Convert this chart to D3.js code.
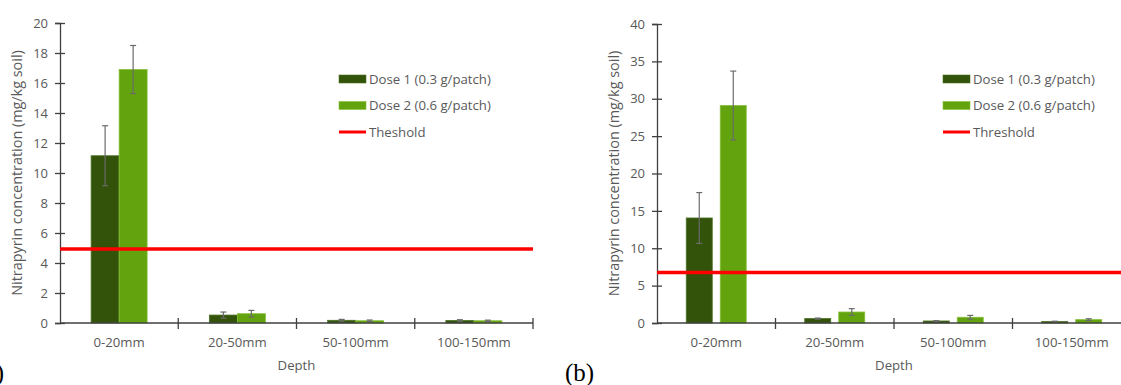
<!DOCTYPE html>
<html>
<head>
<meta charset="utf-8">
<script src="https://cdn.jsdelivr.net/npm/d3@7"></script>
<style>
  html, body { margin: 0; padding: 0; background: #fff; }
  svg { display: block; }
</style>
</head>
<body>
<div id="wrap"></div>
<script>
const categories = ["0-20mm", "20-50mm", "50-100mm", "100-150mm"];

// panel (a)
const doseA1 = [11.15, 0.53, 0.18, 0.17];
const errA1 = [2.0, 0.2, 0.06, 0.05];
const doseA2 = [16.9, 0.62, 0.15, 0.15];
const errA2 = [1.6, 0.22, 0.05, 0.04];
const thresholdA = 4.93;
const ticksA = [0, 2, 4, 6, 8, 10, 12, 14, 16, 18, 20];

// panel (b)
const doseB1 = [14.05, 0.59, 0.27, 0.2];
const errB1 = [3.4, 0.07, 0.05, 0.04];
const doseB2 = [29.1, 1.47, 0.77, 0.45];
const errB2 = [4.6, 0.45, 0.25, 0.12];
const thresholdB = 6.75;
const ticksB = [0, 5, 10, 15, 20, 25, 30, 35, 40];

const seriesNames = ["Dose 1 (0.3 g/patch)", "Dose 2 (0.6 g/patch)"];
const colors = ["#33520a", "#63a30e"];
const strokes = ["#4d7326", "#86c03a"];
const textColor = "#595959";
const axisColor = "#404040";
const fontSize = "13.2px";

const width = 1121;
const height = 385;

const svg = d3
  .select("#wrap")
  .append("svg")
  .attr("width", width)
  .attr("height", height)
  .style("font-family", "'Open Sans', Lato, sans-serif");

function drawPanel(opt) {
  const x = d3.scaleBand(categories, [opt.left, opt.right]).padding(0);
  const y = d3.scaleLinear([0, opt.max], [323, opt.top]);
  const inner = d3
    .scaleBand([0, 1], [0, opt.groupWidth])
    .paddingInner(opt.innerPad)
    .paddingOuter(0);

  const g = svg.append("g");

  // bars
  const series = [
    { vals: opt.d1, errs: opt.e1 },
    { vals: opt.d2, errs: opt.e2 },
  ];
  series.forEach((s, si) => {
    const rows = categories.map((c, i) => ({ c, v: s.vals[i], e: s.errs[i] }));
    const xOf = (d) =>
      x(d.c) + (x.bandwidth() - opt.groupWidth) / 2 + inner(si);
    g.append("g")
      .selectAll("rect")
      .data(rows)
      .join("rect")
      .attr("x", xOf)
      .attr("y", (d) => y(d.v))
      .attr("width", inner.bandwidth())
      .attr("height", (d) => y(0) - y(d.v))
      .attr("fill", colors[si])
      .attr("stroke", strokes[si])
      .attr("stroke-width", 0.8);

    // error bars
    const eb = g
      .append("g")
      .attr("stroke", "#6b6b6b")
      .attr("stroke-width", 1.2)
      .selectAll("g")
      .data(rows)
      .join("g")
      .attr("transform", (d) => `translate(${xOf(d) + inner.bandwidth() / 2},0)`);
    eb.append("line")
      .attr("y1", (d) => y(d.v + d.e))
      .attr("y2", (d) => y(d.v - d.e));
    eb.append("line")
      .attr("x1", -3)
      .attr("x2", 3)
      .attr("y1", (d) => y(d.v + d.e))
      .attr("y2", (d) => y(d.v + d.e));
    eb.append("line")
      .attr("x1", -3)
      .attr("x2", 3)
      .attr("y1", (d) => y(d.v - d.e))
      .attr("y2", (d) => y(d.v - d.e));
  });

  // y axis
  const yAxis = g
    .append("g")
    .attr("transform", `translate(${opt.left},0)`)
    .call(
      d3.axisLeft(y).tickValues(opt.ticks).tickSize(5).tickPadding(7),
    );
  yAxis.select(".domain").attr("stroke", axisColor).attr("stroke-width", 1.3);
  yAxis
    .selectAll(".tick line")
    .attr("x1", -5)
    .attr("x2", 5)
    .attr("stroke", axisColor)
    .attr("stroke-width", 1.3);
  yAxis
    .selectAll(".tick text")
    .attr("fill", textColor)
    .style("font-family", "'Open Sans', sans-serif")
    .style("font-size", "13px");

  // x axis
  const xAxis = g
    .append("g")
    .attr("transform", `translate(0,${y(0)})`);
  xAxis
    .append("line")
    .attr("x1", opt.left)
    .attr("x2", opt.right)
    .attr("stroke", axisColor)
    .attr("stroke-width", 1.3);
  xAxis
    .selectAll("line.t")
    .data(categories.slice(1).concat(["end"]))
    .join("line")
    .attr("class", "t")
    .attr("x1", (d) => (d === "end" ? opt.right : x(d)))
    .attr("x2", (d) => (d === "end" ? opt.right : x(d)))
    .attr("y1", -5)
    .attr("y2", 6)
    .attr("stroke", axisColor)
    .attr("stroke-width", 1.3);
  xAxis
    .selectAll("text")
    .data(categories)
    .join("text")
    .attr("x", (d) => x(d) + x.bandwidth() / 2)
    .attr("y", 24)
    .attr("text-anchor", "middle")
    .attr("fill", textColor)
    .style("font-size", fontSize)
    .text((d) => d);

  // threshold
  g.append("line")
    .attr("x1", opt.left)
    .attr("x2", opt.right)
    .attr("y1", y(opt.threshold))
    .attr("y2", y(opt.threshold))
    .attr("stroke", "#ff0000")
    .attr("stroke-width", 3.5);

  // axis titles
  g.append("text")
    .attr("transform", `translate(${opt.left - 43},${(y(0) + y(opt.max)) / 2}) rotate(-90)`)
    .attr("text-anchor", "middle")
    .attr("dy", "0.35em")
    .attr("fill", textColor)
    .style("font-size", "14.4px")
    .text("Nitrapyrin concentration (mg/kg soil)");
  g.append("text")
    .attr("x", (opt.left + opt.right) / 2)
    .attr("y", 370)
    .attr("text-anchor", "middle")
    .attr("fill", textColor)
    .style("font-size", fontSize)
    .text("Depth");

  // legend
  const lg = g.append("g").attr("transform", `translate(${opt.legendX},79)`);
  seriesNames.forEach((n, i) => {
    lg.append("rect")
      .attr("x", 0)
      .attr("y", i * 26.5 - 4)
      .attr("width", 27)
      .attr("height", 8)
      .attr("fill", colors[i])
      .attr("stroke", strokes[i])
      .attr("stroke-width", 0.6);
    lg.append("text")
      .attr("x", 30)
      .attr("y", i * 26.5)
      .attr("dy", "0.35em")
      .attr("fill", textColor)
      .style("font-size", fontSize)
      .text(n);
  });
  lg.append("line")
    .attr("x1", 0)
    .attr("x2", 27)
    .attr("y1", 53)
    .attr("y2", 53)
    .attr("stroke", "#ff0000")
    .attr("stroke-width", 3);
  lg.append("text")
    .attr("x", 30)
    .attr("y", 53)
    .attr("dy", "0.35em")
    .attr("fill", textColor)
    .style("font-size", fontSize)
    .text(opt.thresholdLabel);

  // panel letter
  svg.append("text")
    .attr("x", opt.letterX)
    .attr("y", 381)
    .attr("text-anchor", opt.letterAnchor)
    .style("font-family", "'Liberation Serif', 'DejaVu Serif', serif")
    .style("font-size", "25px")
    .attr("fill", "#000")
    .text(opt.letter);
}

drawPanel({
  left: 60, right: 533, top: 23, max: 20,
  d1: doseA1, e1: errA1, d2: doseA2, e2: errA2,
  threshold: thresholdA, ticks: ticksA,
  groupWidth: 56, innerPad: 0,
  legendX: 339, thresholdLabel: "Theshold",
  letter: "(a)", letterX: 4, letterAnchor: "end",
});

drawPanel({
  left: 657, right: 1131, top: 24, max: 40,
  d1: doseB1, e1: errB1, d2: doseB2, e2: errB2,
  threshold: thresholdB, ticks: ticksB,
  groupWidth: 60, innerPad: 0.235,
  legendX: 943, thresholdLabel: "Threshold",
  letter: "(b)", letterX: 565, letterAnchor: "start",
});
</script>
</body>
</html>
